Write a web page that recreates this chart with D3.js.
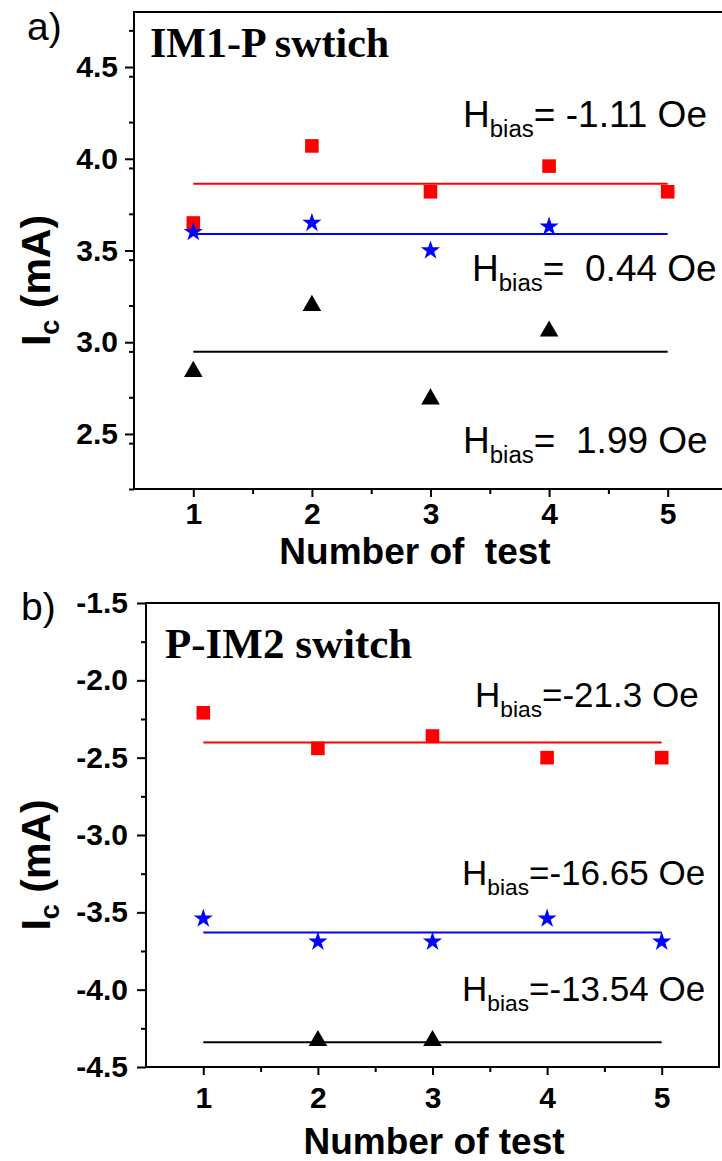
<!DOCTYPE html>
<html>
<head>
<meta charset="utf-8">
<script src="https://cdn.jsdelivr.net/npm/d3@7"></script>
<style>
  body { margin: 0; background: #fff; overflow: hidden; }
  svg { display: block; }
  .tick text { font-family: "Liberation Sans", Arial, sans-serif; font-weight: bold; }
</style>
</head>
<body>
<div data-output></div>
<script>
// test numbers on x
const tests = [1, 2, 3, 4, 5];
const xTicks = [1, 2, 3, 4, 5];

// panel a) IM1-P swtich
const aRed = [3.65, 4.07, 3.82, 3.96, 3.82];
const aBlue = [3.60, 3.65, 3.50, 3.63];
const aBlack = [2.84, 3.20, 2.69, 3.06];
const aLines = [3.864, 3.59, 2.9475];
const aTicks = [2.5, 3.0, 3.5, 4.0, 4.5];
const aLabels = ['= -1.11 Oe', '=  0.44 Oe', '=  1.99 Oe'];

// panel b) P-IM2 switch
const bRed = [-2.21, -2.44, -2.36, -2.50, -2.50];
const bBlue = [-3.54, -3.69, -3.69, -3.54, -3.69];
const bBlackTests = [2, 3];
const bBlack = [-4.33, -4.33];
const bLines = [-2.402, -3.63, -4.34];
const bTicks = [-4.5, -4.0, -3.5, -3.0, -2.5, -2.0, -1.5];
const bLabels = ['=-21.3 Oe', '=-16.65 Oe', '=-13.54 Oe'];

const W = 722, H = 1161;
const svg = d3.select('[data-output]').append('svg')
  .attr('width', W).attr('height', H);

const fmt = d => d3.format('.1f')(d).replace('\u2212', '-');

const panels = [
  {
    tag: 'a)', title: 'IM1-P swtich', xlabel: 'Number of  test',
    box: {left: 134, top: 12, right: 727, bottom: 489}, openRight: true,
    domain: [2.2, 4.8], ticks: aTicks, ypad: 7, xpad: 6,
    series: [
      {x: tests, y: aRed, color: '#ff0000', sym: 'square'},
      {x: tests.slice(0, 4), y: aBlue, color: '#0000ff', sym: 'star'},
      {x: tests.slice(0, 4), y: aBlack, color: '#000000', sym: 'triangle'}
    ],
    lines: aLines, labels: aLabels, labelSize: 37,
    labelPos: [[463, 127], [472, 281], [463, 453]],
    tagPos: [27, 40], titlePos: [150, 57], titleSize: 42,
    xlabelY: 564, xlabelX: 415
  },
  {
    tag: 'b)', title: 'P-IM2 switch', xlabel: 'Number of test',
    box: {left: 146, top: 603, right: 719, bottom: 1067}, openRight: false,
    domain: [-4.5, -1.5], ticks: bTicks, ypad: 9, xpad: 12,
    series: [
      {x: tests, y: bRed, color: '#ff0000', sym: 'square'},
      {x: tests, y: bBlue, color: '#0000ff', sym: 'star'},
      {x: bBlackTests, y: bBlack, color: '#000000', sym: 'triangle'}
    ],
    lines: bLines, labels: bLabels, labelSize: 35,
    labelPos: [[475, 707], [462, 885], [462, 1001]],
    tagPos: [21, 620], titlePos: [165, 658], titleSize: 43,
    xlabelY: 1154, xlabelX: 434
  }
];

const symbols = {
  square: d3.symbol(d3.symbolSquare, 185),
  star: d3.symbol(d3.symbolStar, 115),
  triangle: d3.symbol(d3.symbolTriangle, 150)
};
const colors = ['#ff0000', '#0000ff', '#000000'];

panels.forEach(p => {
  const b = p.box;
  const x = d3.scaleLinear().domain([0.5, 5.5]).range([b.left, b.right]);
  const y = d3.scaleLinear().domain(p.domain).range([b.bottom, b.top]);

  // minor ticks
  const yMinor = d3.range(p.domain[0], p.domain[1] + 1e-9, 0.25)
    .filter(v => Math.abs(v * 2 - Math.round(v * 2)) > 1e-6);
  svg.append('g').attr('transform', `translate(${b.left},0)`)
    .call(d3.axisLeft(y).tickValues(yMinor).tickSize(5).tickFormat(''))
    .call(g => g.select('.domain').remove())
    .call(g => g.selectAll('line').attr('stroke-width', 2));
  svg.append('g').attr('transform', `translate(0,${b.bottom})`)
    .call(d3.axisBottom(x).tickValues([1.5, 2.5, 3.5, 4.5]).tickSize(5).tickFormat(''))
    .call(g => g.select('.domain').remove())
    .call(g => g.selectAll('line').attr('stroke-width', 2));

  // major axes
  svg.append('g').attr('transform', `translate(${b.left},0)`)
    .call(d3.axisLeft(y).tickValues(p.ticks).tickSize(9).tickPadding(p.ypad).tickFormat(fmt))
    .call(g => g.select('.domain').remove())
    .call(g => g.selectAll('line').attr('stroke-width', 2))
    .call(g => g.selectAll('text').attr('font-size', 30).attr('fill', '#000'));
  svg.append('g').attr('transform', `translate(0,${b.bottom})`)
    .call(d3.axisBottom(x).tickValues(xTicks).tickSize(8).tickPadding(p.xpad).tickFormat(d3.format('d')))
    .call(g => g.select('.domain').remove())
    .call(g => g.selectAll('line').attr('stroke-width', 2))
    .call(g => g.selectAll('text').attr('font-size', 30).attr('fill', '#000'));

  // frame (panel a runs past the right edge of the picture)
  const frame = p.openRight
    ? `M${b.right},${b.top}H${b.left}V${b.bottom}H${b.right}`
    : `M${b.left},${b.top}H${b.right}V${b.bottom}H${b.left}Z`;
  svg.append('path').attr('d', frame)
    .attr('fill', 'none').attr('stroke', '#000').attr('stroke-width', 2);

  // mean lines
  p.lines.forEach((v, i) => {
    svg.append('line')
      .attr('x1', x(1)).attr('x2', x(5))
      .attr('y1', y(v)).attr('y2', y(v))
      .attr('stroke', colors[i]).attr('stroke-width', 2);
  });

  // points
  p.series.forEach(s => {
    svg.append('g').selectAll('path')
      .data(s.x.map((t, i) => ({t, v: s.y[i]})))
      .join('path')
      .attr('d', symbols[s.sym])
      .attr('transform', d => `translate(${x(d.t)},${y(d.v)})`)
      .attr('fill', s.color);
  });

  // H_bias labels
  p.labels.forEach((txt, i) => {
    const t = svg.append('text')
      .attr('x', p.labelPos[i][0]).attr('y', p.labelPos[i][1])
      .attr('font-family', '"Liberation Sans", Arial, sans-serif')
      .attr('font-size', p.labelSize).attr('fill', '#000')
      .style('white-space', 'pre');
    t.append('tspan').text('H');
    t.append('tspan').attr('font-size', p.labelSize * 0.65).attr('dy', 10).text('bias');
    t.append('tspan').attr('dy', -10).text(txt);
  });

  // title, tag, axis labels
  svg.append('text')
    .attr('x', p.titlePos[0]).attr('y', p.titlePos[1])
    .attr('font-family', '"Liberation Serif", "Times New Roman", serif')
    .attr('font-weight', 'bold').attr('font-size', p.titleSize)
    .text(p.title);
  svg.append('text')
    .attr('x', p.tagPos[0]).attr('y', p.tagPos[1])
    .attr('font-family', '"Liberation Sans", Arial, sans-serif')
    .attr('font-size', 39)
    .text(p.tag);
  svg.append('text')
    .attr('x', p.xlabelX).attr('y', p.xlabelY)
    .attr('text-anchor', 'middle')
    .attr('font-family', '"Liberation Sans", Arial, sans-serif')
    .attr('font-weight', 'bold').attr('font-size', 37)
    .style('white-space', 'pre')
    .text(p.xlabel);
  const yl = svg.append('text')
    .attr('transform', `translate(50,${(b.top + b.bottom) / 2 + 30}) rotate(-90)`)
    .attr('text-anchor', 'middle')
    .attr('font-family', '"Liberation Sans", Arial, sans-serif')
    .attr('font-weight', 'bold').attr('font-size', 41);
  yl.append('tspan').text('I');
  yl.append('tspan').attr('font-size', 27).attr('dy', 9).text('c');
  yl.append('tspan').attr('dy', -9).text(' (mA)');
});
</script>
</body>
</html>
